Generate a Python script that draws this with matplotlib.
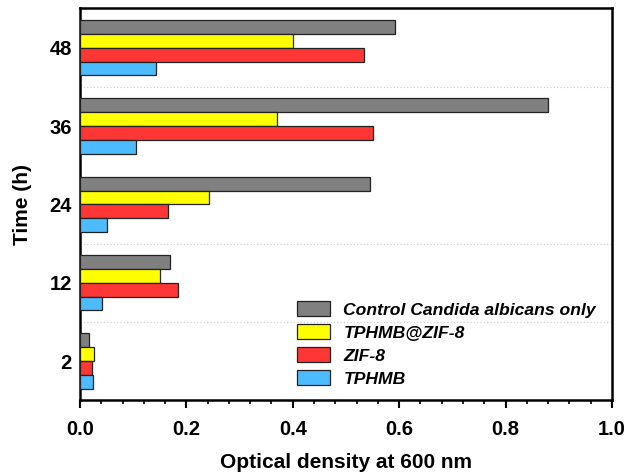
import matplotlib
matplotlib.use("Agg")
import matplotlib.pyplot as plt
import numpy as np
from matplotlib.ticker import MultipleLocator

plt.rcParams['font.family'] = ['Liberation Sans', 'DejaVu Sans']

times = ['2', '12', '24', '36', '48']
series_names = ['Control Candida albicans only', 'TPHMB@ZIF-8', 'ZIF-8', 'TPHMB']
control = [0.017, 0.170, 0.545, 0.879, 0.592]
tphmb_zif8 = [0.027, 0.151, 0.243, 0.370, 0.401]
zif8 = [0.023, 0.185, 0.166, 0.551, 0.534]
tphmb = [0.025, 0.041, 0.050, 0.105, 0.142]
x_ticks = [0.0, 0.2, 0.4, 0.6, 0.8, 1.0]
x_ticklabels = ['0.0', '0.2', '0.4', '0.6', '0.8', '1.0']
colors = ['#808080', '#FFFF00', '#FF3636', '#4CBBFF']

fig = plt.figure(figsize=(6.25, 4.72), dpi=100)
ax = fig.add_axes([0.128, 0.152, 0.851, 0.83])

y = np.arange(len(times))
h = 0.177
data = [control, tphmb_zif8, zif8, tphmb]
offsets = [1.5 * h, 0.5 * h, -0.5 * h, -1.5 * h]
for vals, off, c, name in zip(data, offsets, colors, series_names):
    ax.barh(y + off, vals, height=h, color=c, edgecolor='#222222', linewidth=0.9, label=name, zorder=3)

for sep in [0.5, 1.5, 3.5]:
    ax.axhline(sep, color='#cccccc', linestyle=(0, (1, 2)), linewidth=0.8, zorder=1)

ax.set_xlim(0, 1.0)
ax.set_ylim(-0.5, 4.5)
ax.set_yticks(y)
ax.set_yticklabels(times)
ax.set_xticks(x_ticks)
ax.set_xticklabels(x_ticklabels)
ax.xaxis.set_minor_locator(MultipleLocator(0.04))
ax.tick_params(axis='x', which='major', direction='out', length=6, width=1.5, labelsize=14.5, pad=8)
ax.tick_params(axis='x', which='minor', direction='out', length=3, width=1.2)
ax.tick_params(axis='y', length=0, labelsize=14.5, pad=6)
for lab in ax.get_xticklabels() + ax.get_yticklabels():
    lab.set_fontweight('bold')
for s in ax.spines.values():
    s.set_linewidth(1.8)

ax.set_xlabel('Optical density at 600 nm', fontsize=15, fontweight='bold', labelpad=10)
ax.set_ylabel('Time (h)', fontsize=15, fontweight='bold', labelpad=12)

leg = ax.legend(loc='lower left', bbox_to_anchor=(0.408, 0.035), frameon=False,
                borderpad=0, borderaxespad=0,
                prop={'size': 12.6, 'weight': 'bold', 'style': 'italic'},
                handlelength=1.9, handleheight=0.9, labelspacing=0.38, handletextpad=0.75)

fig.savefig('out.png', dpi=100)
